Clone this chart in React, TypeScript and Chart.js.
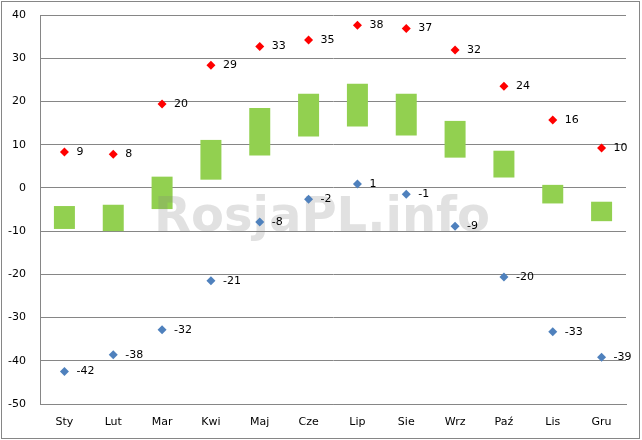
import React, { useEffect, useRef } from "react";
import { Chart, registerables } from "chart.js";

Chart.register(...registerables);

const months = ["Sty", "Lut", "Mar", "Kwi", "Maj", "Cze", "Lip", "Sie", "Wrz", "Paź", "Lis", "Gru"];
const rangeLow = [-9.5, -10, -4.9, 1.9, 7.5, 11.9, 14.2, 12.1, 7.0, 2.4, -3.6, -7.7];
const rangeHigh = [-4.2, -3.9, 2.6, 11.1, 18.5, 21.8, 24.1, 21.8, 15.5, 8.6, 0.7, -3.2];
const maxValues = [8.3, 7.8, 19.4, 28.4, 32.7, 34.2, 37.6, 36.9, 31.9, 23.5, 15.7, 9.2];
const maxLabels = ["9", "8", "20", "29", "33", "35", "38", "37", "32", "24", "16", "10"];
const minValues = [-42.5, -38.6, -32.8, -21.5, -7.9, -2.6, 0.9, -1.5, -8.9, -20.6, -33.3, -39.2];
const minLabels = ["-42", "-38", "-32", "-21", "-8", "-2", "1", "-1", "-9", "-20", "-33", "-39"];
const yMin = -50;
const yMax = 40;
const yStep = 10;

const FONT = "'DejaVu Sans', sans-serif";
const GRID = "#868686";

export default function App() {
  const ref = useRef<HTMLCanvasElement | null>(null);

  useEffect(() => {
    if (!ref.current) return;
    const labelSets = [maxLabels, minLabels];

    const watermark = {
      id: "watermark",
      afterDatasetDraw(chart: any, args: any) {
        if (args.index !== 2) return;
        const ctx = chart.ctx;
        ctx.save();
        ctx.font = `bold 48px ${FONT}`;
        ctx.fillStyle = "rgba(128,128,128,0.24)";
        ctx.textAlign = "center";
        ctx.textBaseline = "alphabetic";
        ctx.fillText("RosjaPL.info", 322, 231);
        ctx.restore();
      },
    };

    const pointLabels = {
      id: "pointLabels",
      afterDatasetsDraw(chart: any) {
        const ctx = chart.ctx;
        ctx.save();
        ctx.font = `11px ${FONT}`;
        ctx.fillStyle = "#000";
        ctx.textAlign = "left";
        ctx.textBaseline = "middle";
        [0, 1].forEach((di) => {
          const meta = chart.getDatasetMeta(di);
          meta.data.forEach((pt: any, i: number) => {
            ctx.fillText(labelSets[di][i], pt.x + 12, pt.y);
          });
        });
        ctx.restore();
      },
    };

    const frame = {
      id: "frame",
      afterDraw(chart: any) {
        const ctx = chart.ctx;
        ctx.save();
        ctx.strokeStyle = GRID;
        ctx.lineWidth = 1;
        ctx.strokeRect(1.5, 1.5, 638, 437);
        ctx.restore();
      },
    };

    const chart = new Chart(ref.current, {
      type: "bar",
      data: {
        labels: months,
        datasets: [
          {
            type: "line",
            label: "max",
            data: maxValues,
            showLine: false,
            pointStyle: "rectRot",
            pointRadius: 4.5,
            pointBackgroundColor: "#FF0000",
            pointBorderColor: "#FF0000",
            pointBorderWidth: 0,
          } as any,
          {
            type: "line",
            label: "min",
            data: minValues,
            showLine: false,
            pointStyle: "rectRot",
            pointRadius: 4.5,
            pointBackgroundColor: "#4F81BD",
            pointBorderColor: "#4F81BD",
            pointBorderWidth: 0,
          } as any,
          {
            type: "bar",
            label: "range",
            data: months.map((_, i) => [rangeLow[i], rangeHigh[i]]),
            backgroundColor: "#92D050",
            borderWidth: 0,
            barPercentage: 0.43,
            categoryPercentage: 1,
          } as any,
        ],
      },
      options: {
        animation: false,
        responsive: false,
        devicePixelRatio: 1,
        layout: { padding: { left: 0, top: 15, right: 16, bottom: 0 } },
        plugins: {
          legend: { display: false },
          tooltip: { enabled: false },
        },
        scales: {
          x: {
            grid: { display: false, drawTicks: false },
            border: { display: true, color: GRID },
            ticks: { color: "#000", font: { family: FONT, size: 11 }, padding: 12 },
            afterFit(scale: any) {
              scale.height = 36;
              scale.paddingLeft = 0;
              scale.paddingRight = 0;
            },
          },
          y: {
            min: yMin,
            max: yMax,
            grid: { color: GRID, lineWidth: 1, drawTicks: false },
            border: { display: true, color: GRID },
            ticks: {
              stepSize: yStep,
              color: "#000",
              font: { family: FONT, size: 11 },
              padding: 14,
            },
            afterFit(scale: any) {
              scale.width = 40;
              scale.paddingTop = 0;
              scale.paddingBottom = 0;
            },
          },
        },
      } as any,
      plugins: [watermark, pointLabels, frame],
    });
    return () => chart.destroy();
  }, []);

  return (
    <div style={{ position: "fixed", left: 0, top: 0, width: 642, height: 440, background: "#fff" }}>
      <canvas ref={ref} width={642} height={440} style={{ width: 642, height: 440, display: "block" }} />
    </div>
  );
}
